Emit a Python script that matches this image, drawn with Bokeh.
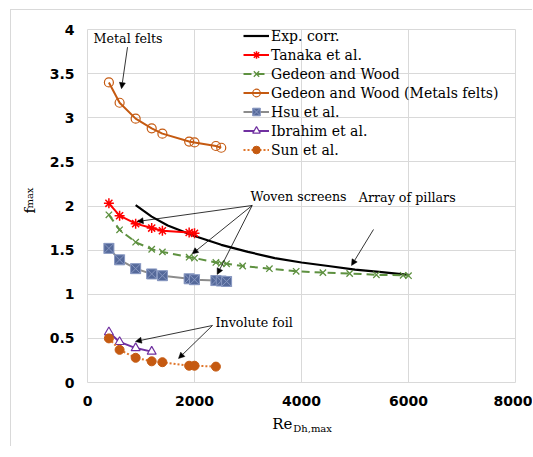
from bokeh.plotting import figure
from bokeh.models import (Legend, LegendItem, Arrow, NormalHead, LinearAxis,
                          FixedTicker, ColumnDataSource)
from bokeh.core.properties import value
from bokeh.embed import file_html
from bokeh.resources import INLINE

# ---- data ----------------------------------------------------------------
exp_re = [900, 1200, 1500, 2000, 2500, 3000, 3500, 4000, 4500, 5000, 5500, 6000]
exp_f = [2.01, 1.88, 1.78, 1.66, 1.56, 1.48, 1.41, 1.36, 1.32, 1.28, 1.25, 1.22]

tanaka_re = [400, 600, 900, 1200, 1400, 1900, 2000]
tanaka_f = [2.03, 1.89, 1.80, 1.75, 1.72, 1.70, 1.69]

gedeon_re = [400, 600, 900, 1200, 1400, 1900, 2000, 2400, 2500, 2600,
             2900, 3400, 3900, 4400, 4900, 5400, 5900, 6000]
gedeon_f = [1.90, 1.73, 1.59, 1.51, 1.48, 1.42, 1.41, 1.36, 1.35, 1.345,
            1.32, 1.29, 1.26, 1.245, 1.235, 1.22, 1.215, 1.21]

felts_re = [400, 600, 900, 1200, 1400, 1900, 2000, 2400, 2500]
felts_f = [3.40, 3.17, 2.99, 2.88, 2.82, 2.73, 2.72, 2.68, 2.66]

hsu_re = [400, 600, 900, 1200, 1400, 1900, 2000, 2400, 2500, 2600]
hsu_f = [1.52, 1.39, 1.29, 1.23, 1.21, 1.175, 1.165, 1.155, 1.15, 1.145]

ibrahim_re = [400, 600, 900, 1200]
ibrahim_f = [0.57, 0.46, 0.39, 0.35]

sun_re = [400, 600, 900, 1200, 1400, 1900, 2000, 2400]
sun_f = [0.50, 0.37, 0.28, 0.24, 0.23, 0.19, 0.19, 0.18]

x_ticks = [0, 2000, 4000, 6000, 8000]
y_ticks = [0, 0.5, 1, 1.5, 2, 2.5, 3, 3.5, 4]

GRID = "#D9D9D9"
SERIF = "DejaVu Serif"
NB = "\u00a0"

p = figure(frame_width=428, frame_height=353,
           x_range=(0, 8000), y_range=(0, 4),
           min_border_left=76, min_border_right=17,
           min_border_top=19, min_border_bottom=64,
           output_backend="svg", toolbar_location=None,
           margin=(9, 0, 0, 10),
           styles={"border-top": f"1px solid {GRID}",
                   "border-left": f"1px solid {GRID}"})

p.background_fill_color = "white"
p.border_fill_color = "white"
p.outline_line_color = GRID
p.outline_line_width = 1

for ax in (p.xaxis[0], p.yaxis[0]):
    ax.axis_line_color = None
    ax.major_tick_line_color = None
    ax.minor_tick_line_color = None
    ax.major_tick_out = 0
    ax.major_label_text_font = "DejaVu Sans"
    ax.major_label_text_font_style = "bold"
    ax.major_label_text_font_size = "14px"
    ax.major_label_text_color = "black"
    ax.major_label_standoff = 13

p.xaxis.ticker = FixedTicker(ticks=x_ticks)
p.yaxis.ticker = FixedTicker(ticks=y_ticks)
p.xaxis.major_label_overrides = {t: str(t) for t in x_ticks}
p.yaxis.major_label_overrides = {t: ("%g" % t) for t in y_ticks}

p.xgrid.grid_line_color = GRID
p.ygrid.grid_line_color = GRID
p.xgrid.ticker = FixedTicker(ticks=x_ticks)
p.ygrid.ticker = FixedTicker(ticks=y_ticks)


def title_axis(text, size, standoff):
    """Tick-free axis used only to place one piece of an axis title."""
    return LinearAxis(ticker=FixedTicker(ticks=[]),
                      axis_label=text, axis_label_standoff=standoff,
                      axis_label_text_font=SERIF,
                      axis_label_text_font_size=size,
                      axis_label_text_font_style="normal",
                      axis_label_text_color="black",
                      axis_line_color=None, major_tick_line_color=None,
                      minor_tick_line_color=None, major_tick_out=0,
                      minor_tick_out=0, major_label_text_font_size="0px")


# x title: "Re" with subscript "Dh,max" (no-break spaces shift each piece)
p.add_layout(title_axis("Re" + NB * 8, "15px", 6), "below")
p.add_layout(title_axis(NB * 7 + "Dh,max", "10px", -13), "below")
# y title: "f" with subscript "max"
p.add_layout(title_axis(NB * 5 + "max", "10px", 12), "left")
p.add_layout(title_axis("f" + NB * 2, "15px", -18), "left")

# ---- series --------------------------------------------------------------
r_exp = p.line(exp_re, exp_f, line_color="black", line_width=2.2)

RED = "#FF0000"
r_tan_l = p.line(tanaka_re, tanaka_f, line_color=RED, line_width=2)
r_tan_m = p.scatter(tanaka_re, tanaka_f, marker="asterisk", size=10,
                    line_color=RED, line_width=1.5)

GREEN = "#5E9140"
r_ged_l = p.line(gedeon_re, gedeon_f, line_color=GREEN, line_width=2,
                 line_dash="8 5")
r_ged_m = p.scatter(gedeon_re, gedeon_f, marker="x", size=9,
                    line_color=GREEN, line_width=1.3)

ORANGE = "#C55A11"
r_fel_l = p.line(felts_re, felts_f, line_color=ORANGE, line_width=2)
r_fel_m = p.scatter(felts_re, felts_f, marker="circle", size=9,
                    line_color=ORANGE, fill_color=None, line_width=1.2)

r_hsu_l = p.line(hsu_re, hsu_f, line_color="#8C8C8C", line_width=2)
r_hsu_m = p.scatter(hsu_re, hsu_f, marker="square_x", size=10,
                    fill_color="#55699A", line_color="#8797C0", line_width=1)

PURPLE = "#7030A0"
r_ibr_l = p.line(ibrahim_re, ibrahim_f, line_color=PURPLE, line_width=2)
r_ibr_m = p.scatter(ibrahim_re, ibrahim_f, marker="triangle", size=9,
                    line_color=PURPLE, fill_color="white", line_width=1.2)

r_sun_l = p.line(sun_re, sun_f, line_color="#E0762B", line_width=2,
                 line_dash="2 2")
r_sun_m = p.scatter(sun_re, sun_f, marker="circle", size=9,
                    line_color=ORANGE, fill_color=ORANGE)

# ---- legend --------------------------------------------------------------
legend = Legend(items=[
    LegendItem(label="Exp. corr.", renderers=[r_exp]),
    LegendItem(label="Tanaka et al.", renderers=[r_tan_l, r_tan_m]),
    LegendItem(label="Gedeon and Wood", renderers=[r_ged_l, r_ged_m]),
    LegendItem(label="Gedeon and Wood (Metals felts)", renderers=[r_fel_l, r_fel_m]),
    LegendItem(label="Hsu et al.", renderers=[r_hsu_l, r_hsu_m]),
    LegendItem(label="Ibrahim et al.", renderers=[r_ibr_l, r_ibr_m]),
    LegendItem(label="Sun et al.", renderers=[r_sun_l, r_sun_m]),
], location=(156, 223))
legend.background_fill_alpha = 0
legend.border_line_alpha = 0
legend.padding = 0
legend.margin = 0
legend.spacing = 0
legend.glyph_width = 26
legend.glyph_height = 19
legend.label_height = 19
legend.label_standoff = 2
legend.label_text_font = SERIF
legend.label_text_font_size = "14px"
legend.label_text_color = "black"
p.add_layout(legend)

# ---- callouts ------------------------------------------------------------
notes = ColumnDataSource(dict(
    x=[112, 3047, 5071, 2392],
    y=[3.90, 2.108, 2.093, 0.683],
    t=["Metal felts", "Woven screens", "Array of pillars", "Involute foil"],
))
p.text(x="x", y="y", text="t", source=notes, text_font=value(SERIF),
       text_font_size="12.7px", text_align="left", text_baseline="middle",
       text_color="black")

arrows = [
    (748, 3.80, 636, 3.33),
    (3078, 2.006, 929, 1.824),
    (3078, 2.006, 1957, 1.458),
    (3078, 2.006, 2424, 1.225),
    (5346, 1.734, 4935, 1.326),
    (2336, 0.646, 897, 0.465),
    (2336, 0.646, 1701, 0.272),
]
for xs, ys, xe, ye in arrows:
    p.add_layout(Arrow(x_start=xs, y_start=ys, x_end=xe, y_end=ye,
                       line_color="black", line_width=0.8,
                       end=NormalHead(size=6, fill_color="black",
                                      line_color="black", line_width=0.5)))

open("out.html", "w").write(file_html(p, INLINE))
